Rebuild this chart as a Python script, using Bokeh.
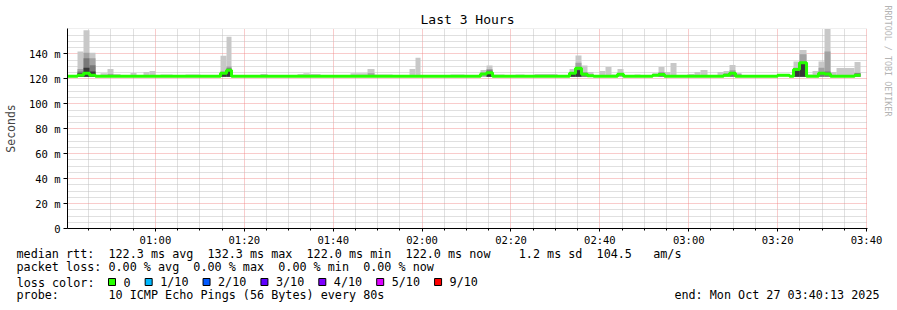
from bokeh.plotting import figure
from bokeh.layouts import column
from bokeh.models import FixedTicker, ColumnDataSource, Range1d, Title
from bokeh.core.properties import value
from bokeh.embed import file_html
from bokeh.resources import INLINE

# ---------------- data (time = minutes after midnight) ----------------
T_START = 40 + 13 / 60.0          # 00:40:13
T_END = T_START + 180.0           # 03:40:13

x_ticks = [60, 80, 100, 120, 140, 160, 180, 200, 220]
x_tick_labels = ["01:00", "01:20", "01:40", "02:00", "02:20", "02:40", "03:00", "03:20", "03:40"]
y_ticks = [0, 20, 40, 60, 80, 100, 120, 140]
y_tick_labels = ["0", "20 m", "40 m", "60 m", "80 m", "100 m", "120 m", "140 m"]

smoke_floor = 121.8   # lowest ping (ms)

# smoke segments: start, end (minutes), and upper edges of the grey bands (ms)
smoke_start = [42.47, 43.82, 45.17, 47.65, 49.22, 50.57, 54.40, 57.32, 58.67, 61.15,
               66.77, 74.65, 76.00, 83.65, 91.97, 93.30, 103.90, 107.72, 109.30, 117.17,
               118.52, 126.40, 133.15, 134.50, 135.85, 141.02, 145.30, 153.17, 154.52, 155.87,
               157.22, 159.92, 161.27, 162.62, 163.97, 167.80, 171.85, 173.20, 174.55, 175.90,
               179.72, 181.30, 182.65, 186.47, 187.82, 189.17, 190.52, 199.97, 203.57, 204.92,
               206.50, 207.85, 209.20, 210.55, 211.90, 213.25, 217.30]
smoke_end = [43.82, 45.17, 46.52, 49.22, 50.57, 52.15, 55.75, 58.67, 60.02, 63.85,
             70.15, 76.00, 77.12, 85.22, 97.15, 94.70, 107.72, 109.30, 113.35, 118.52,
             119.65, 129.55, 134.50, 135.85, 138.55, 143.05, 150.47, 154.52, 155.87, 157.22,
             158.57, 161.27, 162.62, 163.97, 165.32, 169.15, 173.20, 174.55, 175.90, 177.25,
             181.30, 182.65, 184.22, 187.82, 189.17, 190.52, 191.87, 202.67, 204.92, 206.50,
             207.85, 209.20, 210.55, 211.90, 213.25, 217.30, 218.65]
smoke_top = [142.0, 159.0, 141.0, 124.5, 128.0, 124.0, 124.8, 125.5, 126.4, 123.5,
             123.5, 138.5, 153.7, 123.5, 124.0, 124.6, 124.5, 128.0, 123.5, 128.0,
             137.0, 123.5, 127.2, 130.7, 123.5, 123.5, 124.0, 128.0, 138.7, 130.7,
             125.5, 126.4, 129.6, 123.5, 128.0, 123.5, 124.5, 129.6, 125.5, 132.8,
             124.0, 125.5, 127.2, 125.5, 126.4, 131.2, 124.8, 123.5, 133.9, 143.2,
             123.5, 126.4, 134.0, 160.0, 125.5, 128.8, 133.6]
smoke_mid = [128.0, 141.0, 136.5, None, 124.0, None, None, None, None, None,
             None, 126.0, 130.0, 123.5, None, None, None, 124.5, None, None,
             None, None, 125.0, 128.0, None, None, None, 125.0, 133.0, 125.5,
             123.5, None, None, None, 124.5, None, None, 125.5, None, None,
             None, None, None, None, 124.5, 127.0, 124.0, None, 129.0, 139.7,
             None, None, 129.0, 142.0, None, None, 125.0]
smoke_dark = [126.0, 136.5, 131.0, None, None, None, None, None, None, None,
              None, 125.0, 128.5, None, None, None, None, None, None, None,
              None, None, None, 127.0, None, None, None, 124.5, 129.0, 124.5,
              None, None, None, None, None, None, None, 124.5, None, None,
              None, None, None, None, None, 125.5, None, None, 128.5, 133.0,
              None, None, 125.0, 126.0, None, None, 124.5]
smoke_core = [124.5, 129.0, 126.0, None, None, None, None, None, None, None,
              None, 124.5, 127.0, None, None, None, None, None, None, None,
              None, None, None, 125.5, None, None, None, 124.0, 127.0, None,
              None, None, None, None, None, None, None, None, None, None,
              None, None, None, None, None, None, None, None, 128.5, 133.0,
              None, None, None, None, None, None, None]

# median rtt as steps: from med_t[i] on, the median is med_v[i]
med_t = [T_START, 42.47, 43.82, 45.17, 46.52, 74.65, 76.00, 77.12, 133.15, 134.50,
         135.85, 153.17, 154.52, 155.87, 157.22, 158.57, 163.97, 165.32, 171.85, 173.20,
         174.55, 187.82, 189.17, 190.52, 199.97, 202.67, 203.57, 204.92, 206.50, 209.20,
         210.55, 211.90, 217.30, 218.65]
med_v = [122.1, 123.0, 124.5, 123.0, 122.1, 124.5, 127.0, 122.1, 124.0, 125.0,
         122.1, 124.5, 128.5, 123.7, 122.6, 122.1, 123.7, 122.1, 123.0, 123.5,
         122.1, 123.0, 124.6, 122.1, 123.0, 122.1, 127.6, 133.0, 122.1, 124.6,
         124.0, 122.1, 123.0, 123.0]

loss_labels = ["0", "1/10", "2/10", "3/10", "4/10", "5/10", "9/10"]
loss_colors = ["#26ff00", "#00b8ff", "#0059ff", "#5e00ff", "#7e00ff", "#dd00ff", "#ff0000"]

line_median = "median rtt:  122.3 ms avg  132.3 ms max  122.0 ms min  122.0 ms now    1.2 ms sd  104.5   am/s"
line_loss = "packet loss: 0.00 % avg  0.00 % max  0.00 % min  0.00 % now"
line_color_title = "loss color:"
line_probe = "probe:       10 ICMP Echo Pings (56 Bytes) every 80s"
end_text = "end: Mon Oct 27 03:40:13 2025"
title_text = "Last 3 Hours"
watermark = "RRDTOOL / TOBI OETIKER"

MONO = "DejaVu Sans Mono"
FS = "11.75px"
NB = "\u00a0"
W = 897
H_MAIN = 275
H_LEG = 310 - H_MAIN


def row(text, standoff, valign):
    return Title(text=text.replace(" ", NB), align="left", offset=-51, standoff=standoff,
                 vertical_align=valign, text_font=MONO, text_font_size=FS,
                 text_font_style="normal", text_color="black")


# ---------------- main figure ----------------
p = figure(width=W, height=H_MAIN, x_range=Range1d(T_START, T_END), y_range=Range1d(0, 160.4),
           output_backend="svg", toolbar_location=None,
           min_border_left=67, min_border_right=30, min_border_top=28, min_border_bottom=47)
p.outline_line_color = None
p.background_fill_color = "white"
p.border_fill_color = "white"

p.title.text = title_text
p.title.align = "center"
p.title.offset = -19
p.title.standoff = 3
p.title.text_font = MONO
p.title.text_font_size = "13px"
p.title.text_font_style = "normal"
p.title.text_color = "black"

# invisible spacer panel, then the vertical watermark
p.add_layout(Title(text=NB, text_font=MONO, text_font_size="8.4px", text_color="white",
                   standoff=3), "right")
p.add_layout(Title(text=watermark, align="left", vertical_align="bottom", text_font=MONO,
                   text_font_size="8.4px", text_font_style="normal", text_color="#b4b4b4",
                   standoff=0, offset=-23), "right")

# smoke bands, lightest (outermost) first
bands = [(smoke_top, "#c8c8c8"), (smoke_mid, "#a2a2a2"), (smoke_dark, "#787878"), (smoke_core, "#383838")]
for vals, col in bands:
    l, r, t = [], [], []
    for s, e, v in zip(smoke_start, smoke_end, vals):
        if v is not None:
            l.append(s); r.append(e); t.append(v)
    src = ColumnDataSource(dict(left=l, right=r, top=t, bottom=[smoke_floor] * len(t)))
    p.quad(left="left", right="right", top="top", bottom="bottom", source=src,
           fill_color=col, line_color=None)

p.step(med_t, med_v, mode="after", line_color=loss_colors[0], line_width=3)

# axes
minor_x = [m for m in range(45, 221, 5) if m not in x_ticks]
minor_y = [v for v in range(5, 161, 5) if v not in y_ticks]
xt = FixedTicker(ticks=x_ticks, minor_ticks=minor_x)
yt = FixedTicker(ticks=y_ticks, minor_ticks=minor_y)
p.xaxis.ticker = xt
p.yaxis.ticker = yt
p.xgrid.ticker = xt
p.ygrid.ticker = yt
p.xaxis.major_label_overrides = dict(zip(x_ticks, x_tick_labels))
p.yaxis.major_label_overrides = dict(zip(y_ticks, y_tick_labels))

for ax in (p.xaxis[0], p.yaxis[0]):
    ax.axis_line_color = "black"
    ax.major_tick_line_color = "black"
    ax.minor_tick_line_color = "black"
    ax.major_tick_in = 0
    ax.minor_tick_in = 0
    ax.major_label_text_font = MONO
    ax.major_label_text_font_size = "10.5px"
    ax.major_label_text_color = "black"
p.xaxis.major_tick_out = 3
p.xaxis.minor_tick_out = 2
p.xaxis.major_label_standoff = 2
p.yaxis.major_tick_out = 4
p.yaxis.minor_tick_out = 0
p.yaxis.major_label_standoff = 3
p.yaxis.axis_label = "Seconds"
p.yaxis.axis_label_text_font = MONO
p.yaxis.axis_label_text_font_size = "11.5px"
p.yaxis.axis_label_text_font_style = "normal"
p.yaxis.axis_label_standoff = 8

for g in (p.xgrid[0], p.ygrid[0]):
    g.grid_line_color = "#f08080"
    g.grid_line_alpha = 0.8
    g.grid_line_dash = "1 1"
    g.minor_grid_line_color = "#c0c0c0"
    g.minor_grid_line_alpha = 1.0
    g.minor_grid_line_dash = "1 1"

# first two legend rows directly under the time axis
p.add_layout(row(line_median, -3, "top"), "below")
p.add_layout(row(line_loss, -3, "top"), "below")

# ---------------- legend strip: frame = the "loss color" row ----------------
# data coordinates of this strip: x = page pixel, y = pixel below the strip's top
ROW_H = 15
ROW_MID = 6.5
leg = figure(width=W, height=H_LEG, x_range=Range1d(67, 867), y_range=Range1d(ROW_H, 0),
             output_backend="svg", toolbar_location=None, x_axis_location=None,
             min_border_left=67, min_border_right=30, min_border_top=0,
             min_border_bottom=H_LEG - ROW_H)
leg.outline_line_color = None
leg.grid.visible = False
leg.background_fill_color = "white"
leg.border_fill_color = "white"

# "loss color:" as the strip's single y tick label
ya = leg.yaxis[0]
ya.ticker = FixedTicker(ticks=[ROW_MID], minor_ticks=[])
ya.major_label_overrides = {ROW_MID: line_color_title}
ya.axis_line_color = None
ya.major_tick_line_color = None
ya.minor_tick_line_color = None
ya.major_tick_out = 0
ya.major_label_standoff = -27
ya.major_label_text_font = MONO
ya.major_label_text_font_size = FS
ya.major_label_text_color = "black"

probe_row = line_probe + " " * (93 - len(line_probe)) + end_text
leg.add_layout(row(probe_row, -6, "top"), "below")

CW = 7.07
sq_l, lab_x = [], []
sq = 108.0
for lab in loss_labels:
    sq_l.append(sq)
    lab_x.append(sq + 15)
    sq = sq + 15 + CW * len(lab) + 14.6
leg.quad(left=sq_l, right=[s + 7 for s in sq_l], top=[3] * len(sq_l),
         bottom=[10] * len(sq_l), fill_color=loss_colors, line_color="black", line_width=1)
leg.text(x=lab_x, y=[ROW_MID] * len(lab_x), text=loss_labels,
         text_font=value(MONO), text_font_size=FS, text_baseline="middle",
         text_align="left", text_color="black")

layout = column(p, leg, spacing=0)
open("out.html", "w").write(file_html(layout, INLINE))
